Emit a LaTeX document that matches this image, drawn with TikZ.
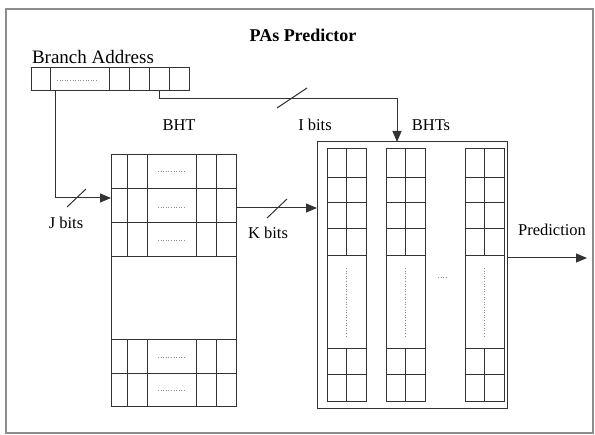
\documentclass[tikz,border=0pt]{standalone}
\usepackage{fontspec}
\setmainfont{Liberation Serif}
\usetikzlibrary{arrows.meta}
\begin{document}
\begin{tikzpicture}[x=1pt,y=-1pt,
  ln/.style={line width=1pt, draw=black!80},
  arr/.style={ln,-{Triangle[length=11pt,width=9pt]}},
  lbl/.style={font=\fontsize{16.5}{18}\selectfont, inner sep=0pt},
  ttl/.style={font=\fontsize{18}{20}\selectfont\bfseries, inner sep=0pt},
  addr/.style={font=\fontsize{19}{21}\selectfont, inner sep=0pt},
  dots/.style={draw=black!45, dotted, line width=0.6pt},
  cell/.style={ln, draw, rectangle, inner sep=0pt, minimum height=23pt}
]
\useasboundingbox (0,0) rectangle (595,435);
\draw[draw=black!45, line width=1.5pt] (6,9) rectangle (593,433);

% title and labels
\node[ttl] (title) at (303,35) {PAs Predictor};
\node[addr] (addrlbl) at (93,57) {Branch Address};
\node[lbl] (bhtlbl) at (179,125) {BHT};
\node[lbl] (ilbl) at (315,125) {I bits};
\node[lbl] (bhtslbl) at (431,125) {BHTs};
\node[lbl] (jlbl) at (66,223) {J bits};
\node[lbl] (klbl) at (268,233) {K bits};
\node[lbl] (plbl) at (552,230) {Prediction};

% branch address register
\node[cell, minimum width=19pt] (r1) at (40.5,79.5) {};
\node[cell, minimum width=59pt] (r2) at (79.5,79.5) {};
\node[cell, minimum width=20pt] (r3) at (119,79.5) {};
\node[cell, minimum width=20pt] (r4) at (139,79.5) {};
\node[cell, minimum width=20pt] (r5) at (159,79.5) {};
\node[cell, minimum width=20pt] (r6) at (179,79.5) {};
\draw[dots] (57,80) -- (97,80);

% BHT table
\node[ln, draw, rectangle, inner sep=0pt, minimum width=125pt, minimum height=252pt] (bht) at (173.5,281) {};
\foreach \y in {189,223,257,340,374} \draw[ln] (111,\y) -- (236,\y);
\foreach \x in {127,147,196,216} {
  \draw[ln] (\x,155) -- (\x,257);
  \draw[ln] (\x,340) -- (\x,407);
}
\foreach \y in {171,207,240,357,390} \draw[dots] (158,\y) -- (186,\y);

% BHTs box
\node[ln, draw, rectangle, inner sep=0pt, minimum width=190pt, minimum height=267pt] (bhts) at (412,275.5) {};
\foreach \x in {327,386,465} {
  \draw[ln] (\x,149) rectangle (\x+39,402);
  \foreach \y in {178,203,229,256,349,375} \draw[ln] (\x,\y) -- (\x+39,\y);
  \draw[ln] (\x+19.5,149) -- (\x+19.5,256);
  \draw[ln] (\x+19.5,349) -- (\x+19.5,402);
  \draw[dots] (\x+19.5,268) -- (\x+19.5,337);
}
\draw[dots] (438,277) -- (448,277);

% connectors
\coordinate (jin) at (111,198);
\coordinate (iin) at (397,142);
\coordinate (kout) at (236,208);
\coordinate (kin) at (317,208);
\coordinate (pout) at (507,258);
\coordinate (pend) at (587,258);
\draw[arr] ([xshift=6pt]r2.south west) |- (jin);
\draw[arr] (r5.south) -- ++(0,7) -| (iin);
\draw[arr] (kout) -- (kin);
\draw[arr] (pout) -- (pend);

% bus slashes
\draw[ln] (67,207) -- (86,189);
\draw[ln] (277,108) -- (307,88);
\draw[ln] (267,218) -- (287,199);
\end{tikzpicture}
\end{document}
